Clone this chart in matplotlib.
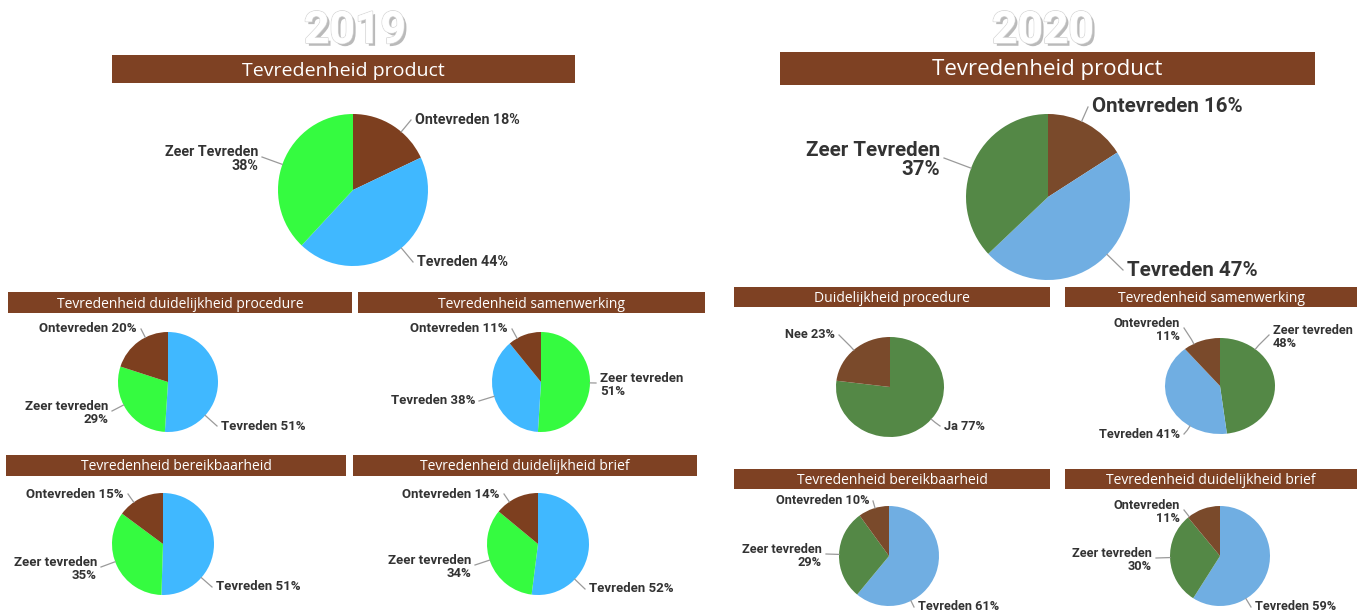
import numpy as np
import matplotlib
matplotlib.use("Agg")
import matplotlib.pyplot as plt
import matplotlib.patheffects as pe
from matplotlib.patches import Rectangle
from matplotlib.lines import Line2D

# ---------------- data ----------------
years = ['2019', '2020']

titles_2019 = ['Tevredenheid product', 'Tevredenheid duidelijkheid procedure',
               'Tevredenheid samenwerking', 'Tevredenheid bereikbaarheid',
               'Tevredenheid duidelijkheid brief']
titles_2020 = ['Tevredenheid product', 'Duidelijkheid procedure',
               'Tevredenheid samenwerking', 'Tevredenheid bereikbaarheid',
               'Tevredenheid duidelijkheid brief']

cats_product_2019 = ['Ontevreden', 'Tevreden', 'Zeer Tevreden']
vals_product_2019 = [18, 44, 38]
cats_procedure_2019 = ['Tevreden', 'Zeer tevreden', 'Ontevreden']
vals_procedure_2019 = [51, 29, 20]
cats_samenwerking_2019 = ['Zeer tevreden', 'Tevreden', 'Ontevreden']
vals_samenwerking_2019 = [51, 38, 11]
cats_bereik_2019 = ['Tevreden', 'Zeer tevreden', 'Ontevreden']
vals_bereik_2019 = [51, 35, 15]
cats_brief_2019 = ['Tevreden', 'Zeer tevreden', 'Ontevreden']
vals_brief_2019 = [52, 34, 14]

cats_product_2020 = ['Ontevreden', 'Tevreden', 'Zeer Tevreden']
vals_product_2020 = [16, 47, 37]
cats_procedure_2020 = ['Ja', 'Nee']
vals_procedure_2020 = [77, 23]
cats_samenwerking_2020 = ['Zeer tevreden', 'Tevreden', 'Ontevreden']
vals_samenwerking_2020 = [48, 41, 11]
cats_bereik_2020 = ['Tevreden', 'Zeer tevreden', 'Ontevreden']
vals_bereik_2020 = [61, 29, 10]
cats_brief_2020 = ['Tevreden', 'Zeer tevreden', 'Ontevreden']
vals_brief_2020 = [59, 30, 11]

# ---------------- styles ----------------
colors_2019 = {'ontevreden': '#7d3f1f', 'tevreden': '#40b8ff', 'zeer tevreden': '#35fb40'}
colors_2020 = {'ontevreden': '#7a4a2b', 'tevreden': '#70aee2', 'zeer tevreden': '#548846',
               'ja': '#548846', 'nee': '#7a4a2b'}
BAR = '#7e4123'
TXT = '#333333'
LEAD = '#9a9a9a'

W, H = 1364, 614
fig = plt.figure(figsize=(W / 100, H / 100), dpi=100)
fig.patch.set_facecolor('white')

LABEL_FONT = ['Roboto', 'DejaVu Sans']
TITLE_FONT = ['Open Sans', 'DejaVu Sans']


def fx(x):
    return x / W


def fy(y):
    return 1 - y / H


def bar(x0, y0, x1, y1, text, fs):
    fig.patches.append(Rectangle((fx(x0), fy(y1)), fx(x1) - fx(x0), fy(y0) - fy(y1),
                                 transform=fig.transFigure, facecolor=BAR,
                                 edgecolor='none', zorder=1))
    fig.text(fx((x0 + x1) / 2), fy((y0 + y1) / 2 + 1.5), text, ha='center', va='center',
             color='white', fontsize=fs, family=TITLE_FONT, zorder=2)


def pie(cx, cy, rx, ry, cats, vals, cmap, layout, fs):
    ax = fig.add_axes([fx(cx - rx), fy(cy + ry), 2 * rx / W, 2 * ry / H])
    ax.pie(vals, colors=[cmap[c.lower()] for c in cats], startangle=90,
           counterclock=False, wedgeprops=dict(linewidth=0))
    ax.set_aspect('auto')
    ax.set_xlim(-1, 1)
    ax.set_ylim(-1, 1)
    ax.axis('off')
    for c, v, (lx, ly, ha, two) in zip(cats, vals, layout):
        s = f"{c}\n{v}%" if two else f"{c} {v}%"
        fig.text(fx(lx), fy(ly), s, ha=ha, va='center', multialignment=ha,
                 fontsize=fs, fontweight='bold', color=TXT, family=LABEL_FONT,
                 linespacing=1.05)
        ax_ = lx - 4 if ha == 'left' else lx + 4
        ay_ = ly - (2 if two else 0)
        th = np.arctan2(-(ay_ - cy) / ry, (ax_ - cx) / rx)
        ex, ey = cx + rx * np.cos(th), cy - ry * np.sin(th)
        mx, my = cx + (rx + 5) * np.cos(th), cy - (ry + 5) * np.sin(th)
        fig.lines.append(Line2D([fx(ex), fx(mx), fx(ax_)], [fy(ey), fy(my), fy(ay_)],
                                transform=fig.transFigure, color=LEAD, lw=0.9))


# year headings
for yr, x in zip(years, [355, 1043]):
    fig.text(fx(x), fy(31), yr, ha='center', va='center', fontsize=32,
             fontweight='bold', color='white', family=['Roboto', 'DejaVu Sans'],
             path_effects=[pe.SimplePatchShadow(offset=(2, -2), shadow_rgbFace='#666666', alpha=0.45),
                           pe.withStroke(linewidth=1.2, foreground='#d8d8d8'), pe.Normal()])

# ---------------- 2019 ----------------
bar(112, 55, 575, 83, titles_2019[0], 14)
pie(353, 190, 75, 76, cats_product_2019, vals_product_2019, colors_2019,
    [(415, 120, 'left', False), (417, 262, 'left', False), (258, 159, 'right', True)], 10.3)

bar(8, 292, 352, 313, titles_2019[1], 10)
pie(168, 382, 50, 50, cats_procedure_2019, vals_procedure_2019, colors_2019,
    [(221, 426, 'left', False), (108, 413, 'right', True), (137, 329, 'right', False)], 9.5)

bar(358, 292, 705, 313, titles_2019[2], 10)
pie(541, 382, 49, 50, cats_samenwerking_2019, vals_samenwerking_2019, colors_2019,
    [(600, 385, 'left', True), (475, 401, 'right', False), (508, 329, 'right', False)], 9.5)

bar(6, 455, 346, 476, titles_2019[3], 10)
pie(163, 544, 51, 51, cats_bereik_2019, vals_bereik_2019, colors_2019,
    [(216, 587, 'left', False), (97, 569, 'right', True), (124, 494, 'right', False)], 9.5)

bar(353, 455, 697, 476, titles_2019[4], 10)
pie(538, 544, 51, 51, cats_brief_2019, vals_brief_2019, colors_2019,
    [(589, 589, 'left', False), (471, 567, 'right', True), (500, 494, 'right', False)], 9.5)

# ---------------- 2020 ----------------
bar(780, 52, 1315, 85, titles_2020[0], 16)
pie(1048, 197, 82, 83, cats_product_2020, vals_product_2020, colors_2020,
    [(1092, 107, 'left', False), (1127, 270, 'left', False), (940, 160, 'right', True)], 14.8)

bar(734, 287, 1050, 307, titles_2020[1], 10)
pie(890, 387, 54, 50, cats_procedure_2020, vals_procedure_2020, colors_2020,
    [(944, 426, 'left', False), (835, 335, 'right', False)], 9.2)

bar(1065, 287, 1357, 307, titles_2020[2], 10)
pie(1220, 386, 55, 48, cats_samenwerking_2020, vals_samenwerking_2020, colors_2020,
    [(1273, 337, 'left', True), (1180, 434, 'right', False), (1180, 330, 'right', True)], 9.2)

bar(734, 469, 1050, 489, titles_2020[3], 10)
pie(889, 556, 50, 50, cats_bereik_2020, vals_bereik_2020, colors_2020,
    [(918, 607, 'left', False), (822, 556, 'right', True), (869, 501, 'right', False)], 9.2)

bar(1065, 469, 1357, 489, titles_2020[4], 10)
pie(1220, 556, 50, 50, cats_brief_2020, vals_brief_2020, colors_2020,
    [(1255, 607, 'left', False), (1152, 560, 'right', True), (1180, 512, 'right', True)], 9.2)

fig.savefig('out.png', dpi=100, facecolor='white')
